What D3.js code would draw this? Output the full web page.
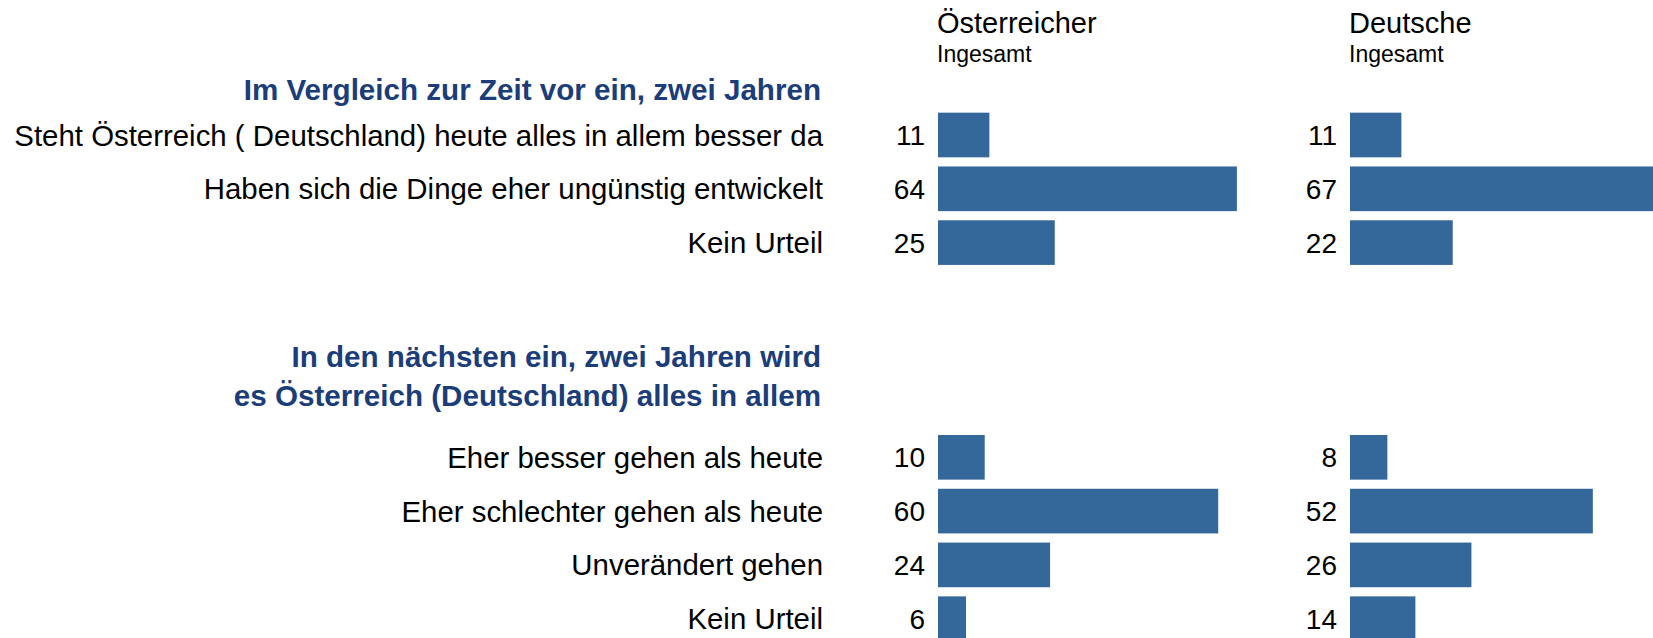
<!DOCTYPE html>
<html>
<head>
<meta charset="utf-8">
<script src="https://cdn.jsdelivr.net/npm/d3@7"></script>
<style>
  body { margin: 0; background: #fff; }
  svg { font-family: "Liberation Sans", Arial, sans-serif; }
  .label { font-size: 29.4px; fill: #000; }
  .head { font-size: 29px; fill: #000; }
  .num { font-size: 28px; fill: #000; }
  .title { font-size: 29.6px; font-weight: bold; fill: #1b3d7a; }
</style>
</head>
<body>
<svg id="chart"></svg>
<script>
// data
var groups = ["Österreicher", "Deutsche"];
var subHeader = "Ingesamt";

var title1 = ["Im Vergleich zur Zeit vor ein, zwei Jahren"];
var cats1 = ["Steht Österreich ( Deutschland) heute alles in allem besser da",
             "Haben sich die Dinge eher ungünstig entwickelt",
             "Kein Urteil"];
var oest1 = [11, 64, 25];
var deut1 = [11, 67, 22];

var title2 = ["In den nächsten ein, zwei Jahren wird",
              "es Österreich (Deutschland) alles in allem"];
var cats2 = ["Eher besser gehen als heute",
             "Eher schlechter gehen als heute",
             "Unverändert gehen",
             "Kein Urteil"];
var oest2 = [10, 60, 24, 6];
var deut2 = [8, 52, 26, 14];

var W = 1653, H = 638;
var barColor = "#34679a";
var labelRight = 823;
var colStart = [938, 1350];   // where bars begin for each group
var step = 53.8;

var svg = d3.select("#chart").attr("width", W).attr("height", H);

var x = d3.scaleLinear().domain([0, 100]).range([0, 467]);

// column headers
groups.forEach(function(g, i) {
  svg.append("text").attr("class", "head")
    .attr("x", colStart[i] - 1).attr("y", 33).text(g);
  svg.append("text").attr("x", colStart[i] - 1).attr("y", 62)
    .style("font-size", "23px").text(subHeader);
});

function drawSection(titleLines, titleY, cats, vals, top) {
  svg.selectAll(null).data(titleLines).enter().append("text")
    .attr("class", "title")
    .attr("x", labelRight - 2)
    .attr("y", function(d, i) { return titleY + i * 39; })
    .attr("text-anchor", "end")
    .text(function(d) { return d; });

  var y = d3.scaleBand()
    .domain(cats)
    .range([top, top + cats.length * step])
    .paddingInner(0.17)
    .paddingOuter(0.085);

  svg.selectAll(null).data(cats).enter().append("text")
    .attr("class", "label")
    .attr("x", labelRight)
    .attr("y", function(d) { return y(d) + y.bandwidth() / 2; })
    .attr("dy", "0.36em")
    .attr("text-anchor", "end")
    .text(function(d) { return d; });

  vals.forEach(function(series, gi) {
    var g = svg.append("g").attr("transform", "translate(" + colStart[gi] + ",0)");
    g.selectAll("rect").data(series).enter().append("rect")
      .attr("x", 0)
      .attr("y", function(d, i) { return y(cats[i]); })
      .attr("width", function(d) { return x(d); })
      .attr("height", y.bandwidth())
      .attr("fill", barColor);
    g.selectAll("text").data(series).enter().append("text")
      .attr("class", "num")
      .attr("x", -13)
      .attr("y", function(d, i) { return y(cats[i]) + y.bandwidth() / 2; })
      .attr("dy", "0.36em")
      .attr("text-anchor", "end")
      .text(function(d) { return d; });
  });
}

drawSection(title1, 100, cats1, [oest1, deut1], 108.1);
drawSection(title2, 367, cats2, [oest2, deut2], 430.4);
</script>
</body>
</html>
